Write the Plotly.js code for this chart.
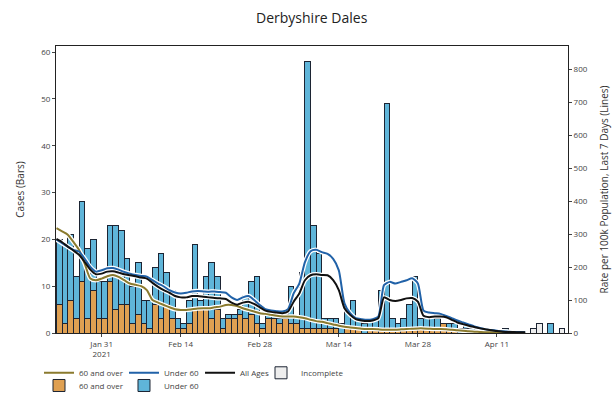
<!DOCTYPE html>
<html><head><meta charset="utf-8">
<script src="https://cdn.plot.ly/plotly-3.0.1.min.js"></script>
<style>html,body{margin:0;padding:0;background:#fff}#chart{width:616px;height:397px}</style>
</head><body><div id="chart"></div>
<script>
// First day shown and the number of daily bars
const startDate = "2021-01-23";
const nDays = 90;
const days = [];
for (let i = 0; i < nDays; i++) {
  const d = new Date(Date.UTC(2021, 0, 23 + i));
  days.push(d.toISOString().slice(0, 10));
}

// Daily cases (bars)
const over60Cases = [6,2,7,3,11,3,9,3,3,11,5,6,6,2,4,2,1,6,3,6,3,1,1,2,5,5,5,3,5,1,
  3,3,4,3,4,2,1,3,3,2,3,2,2,1,1,1,1,1,1,1,0,1,1,1,0,1,1,1,1,1,
  1,1,1,1,1,1,1,1,2,1,1,0,1,0,0,0,0,0,0,0,0,0,0,0,0,0,0,0,0,0];
const under60Cases = [14,17,14,9,17,15,11,8,8,12,18,16,10,8,11,5,6,8,14,7,6,2,1,5,14,2,7,12,7,2,
  1,1,1,5,7,10,1,1,1,1,1,8,1,12,57,22,16,2,2,2,2,4,6,2,2,2,2,8,48,2,
  1,2,5,11,2,2,2,2,0,1,1,1,1,1,1,1,0,0,0,1,0,0,0,0,0,0,0,2,0,0];
const incompleteCases = [0,0,0,0,0,0,0,0,0,0,0,0,0,0,0,0,0,0,0,0,0,0,0,0,0,0,0,0,0,0,
  0,0,0,0,0,0,0,0,0,0,0,0,0,0,0,0,0,0,0,0,0,0,0,0,0,0,0,0,0,0,
  0,0,0,0,0,0,0,0,0,0,0,0,0,0,0,0,0,0,0,0,0,0,0,0,1,2,0,0,0,1];

// Rate per 100k population, last 7 days (lines)
const over60Rate = [318,308,298,276,252,210,165,160,165,172,176,170,160,150,146,142,130,100,92,85,
  78,72,70,70,72,74,75,75,78,80,85,85,82,75,70,65,60,58,55,52,
  50,50,50,48,45,40,36,34,30,26,22,19,17,15,13,12,12,11,10,10,
  10,11,12,13,14,14,13,12,12,11,10,8,7,5,4,3,2,2,1,1,1,0,0,0];
const under60Rate = [283,272,262,252,247,225,200,186,190,196,197,192,185,180,176,173,171,160,150,141,
  130,123,120,122,126,127,126,125,126,124,122,108,100,108,112,100,85,72,68,66,
  65,72,120,150,215,248,252,245,240,225,190,90,60,45,42,40,42,50,145,155,
  150,155,160,166,150,68,62,60,58,52,45,38,32,26,20,15,11,9,7,5,4,3,3,2];
const allAgesRate = [285,275,262,250,237,215,192,178,180,186,187,183,178,175,172,168,165,152,140,130,
  122,112,108,108,112,112,110,108,106,105,103,92,86,92,95,88,78,68,64,62,
  60,65,95,120,160,175,178,176,175,160,130,75,55,42,38,36,38,45,108,100,
  97,100,105,106,95,52,48,50,50,48,40,32,27,22,18,14,11,8,6,4,3,3,2,2];

const font = "Open Sans, DejaVu Sans, sans-serif";
const edge = {color: "#1c2433", width: 1};
const lineDays = days.slice(0, allAgesRate.length);

function halo(y) {
  return {x: lineDays, y: y, yaxis: "y2", type: "scatter", mode: "lines",
    line: {color: "#ffffff", width: 4.5, shape: "spline", smoothing: 0.6},
    showlegend: false, hoverinfo: "skip"};
}

const traces = [
  {x: days, y: over60Cases, type: "bar", name: "60 and over", legend: "legend5",
    marker: {color: "#dfa052", line: edge}, xperiod: 86400000, xperiodalignment: "middle"},
  {x: days, y: under60Cases, type: "bar", name: "Under 60", legend: "legend6",
    marker: {color: "#5fb5d9", line: edge}, xperiod: 86400000, xperiodalignment: "middle"},
  {x: days, y: incompleteCases, type: "bar", name: "Incomplete", legend: "legend4",
    marker: {color: "#eeeeee", line: edge}, xperiod: 86400000, xperiodalignment: "middle"},
  halo(over60Rate), halo(under60Rate), halo(allAgesRate),
  {x: lineDays, y: over60Rate, yaxis: "y2", type: "scatter", mode: "lines", name: "60 and over",
    line: {color: "#8a7a2e", width: 2, shape: "spline", smoothing: 0.6}, legend: "legend"},
  {x: lineDays, y: under60Rate, yaxis: "y2", type: "scatter", mode: "lines", name: "Under 60",
    line: {color: "#2162a8", width: 2, shape: "spline", smoothing: 0.6}, legend: "legend2"},
  {x: lineDays, y: allAgesRate, yaxis: "y2", type: "scatter", mode: "lines", name: "All Ages",
    line: {color: "#111111", width: 2, shape: "spline", smoothing: 0.6}, legend: "legend3"}
];

// one legend box per entry, placed like the reference (paper x, container y)
function leg(x, y) {
  return {orientation: "h", xref: "paper", x: x, xanchor: "left",
    yref: "container", y: y, yanchor: "middle", font: {size: 8, color: "#444"},
    bgcolor: "rgba(0,0,0,0)", itemwidth: 30};
}

const layout = {
  width: 616, height: 397,
  margin: {l: 56, r: 48, t: 46, b: 64},
  paper_bgcolor: "#fff", plot_bgcolor: "#fff",
  font: {family: font, size: 8, color: "#444"},
  title: {text: "Derbyshire Dales", x: 0.506, xanchor: "center", y: 0.955, yanchor: "middle",
    font: {family: font, size: 14, color: "#222"}},
  barmode: "stack", bargap: 0,
  xaxis: {type: "date", range: ["2021-01-22 22:00", "2021-04-23 14:00"],
    tick0: "2021-01-31", dtick: 14 * 86400000, ticks: "outside", ticklen: 3,
    showline: true, mirror: true, linecolor: "#222", linewidth: 1, showgrid: false, zeroline: false,
    tickfont: {size: 8, color: "#444"}},
  yaxis: {range: [0, 61.3], tickvals: [0,10,20,30,40,50,60], ticks: "outside", ticklen: 3,
    showline: true, linecolor: "#222", linewidth: 1, showgrid: false, zeroline: false,
    title: {text: "Cases (Bars)", font: {size: 10, color: "#333"}, standoff: 14},
    tickfont: {size: 8, color: "#444"}},
  yaxis2: {overlaying: "y", side: "right", range: [0, 870], tickvals: [0,100,200,300,400,500,600,700,800],
    ticks: "outside", ticklen: 3, showline: true, linecolor: "#222", linewidth: 1,
    showgrid: false, zeroline: false,
    title: {text: "Rate per 100k Population, Last 7 Days (Lines)", font: {size: 10, color: "#333"}, standoff: 14},
    tickfont: {size: 8, color: "#444"}},
  legend: leg(-0.0332, 0.061),
  legend2: leg(0.1328, 0.061),
  legend3: leg(0.2813, 0.061),
  legend4: leg(0.4004, 0.061),
  legend5: leg(-0.0332, 0.029),
  legend6: leg(0.1328, 0.029)
};

Plotly.newPlot("chart", traces, layout, {displayModeBar: false, staticPlot: true});
</script>
</body></html>
